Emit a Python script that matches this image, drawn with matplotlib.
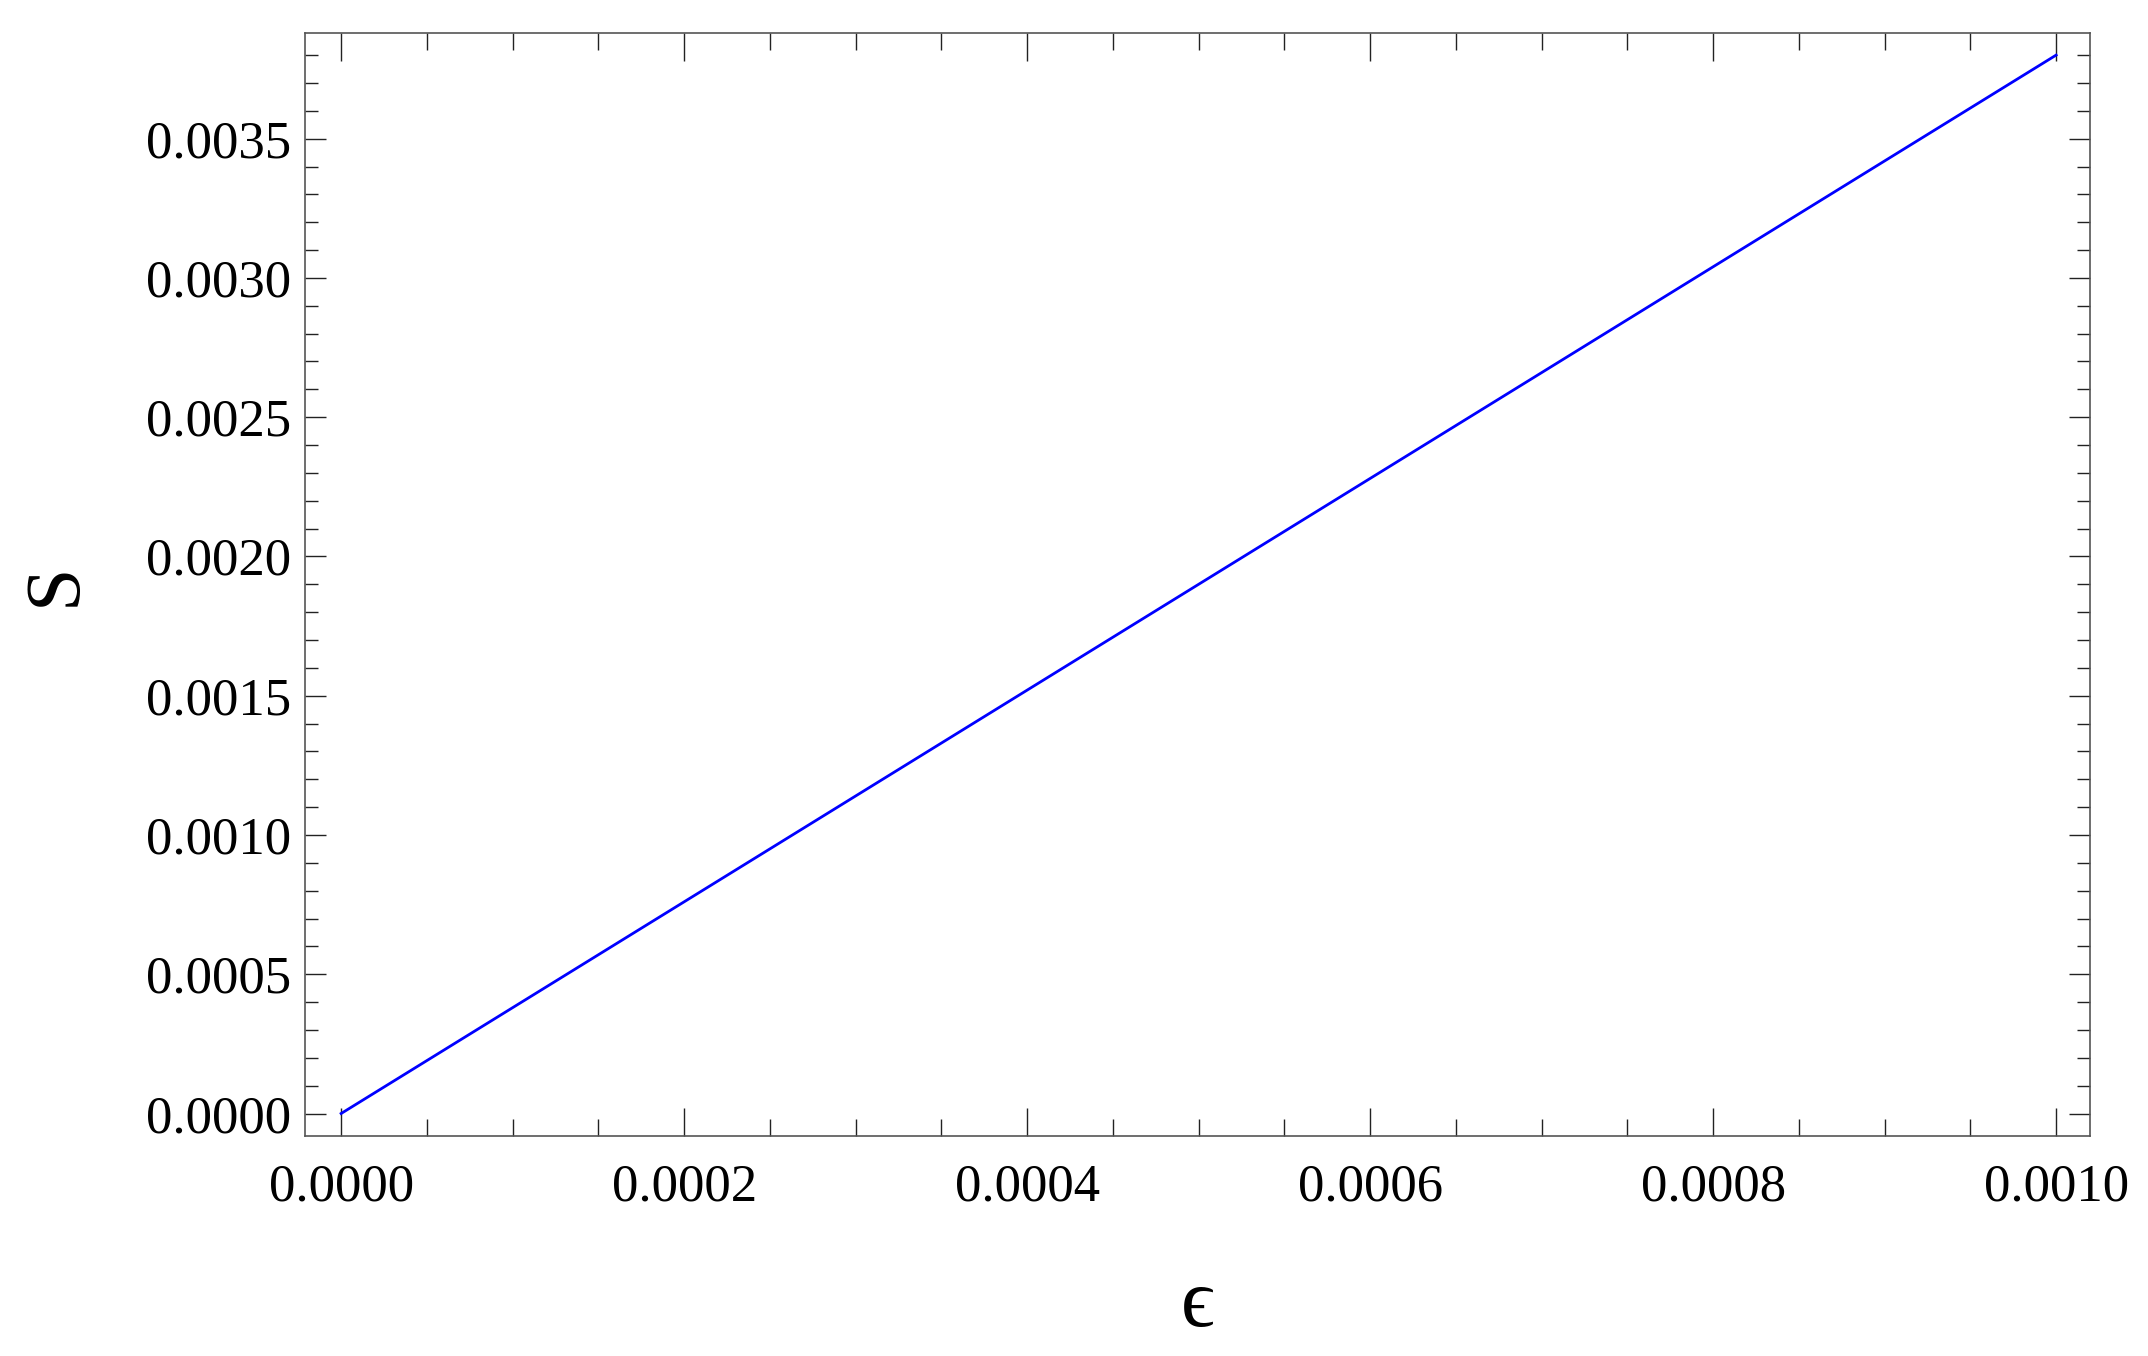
import matplotlib.pyplot as plt
from matplotlib.ticker import MultipleLocator, FormatStrFormatter

plt.rcParams['font.family'] = ['Liberation Serif', 'DejaVu Serif']

# data
eps = [0.0, 0.00025, 0.0005, 0.00075, 0.001]
S = [0.0, 0.00095, 0.0019, 0.00285, 0.0038]

fig = plt.figure(figsize=(10.74, 6.78), dpi=200)
ax = fig.add_axes([0.1422, 0.1626, 0.9732 - 0.1422, 0.9758 - 0.1626])

ax.plot(eps, S, color='#0000ff', lw=1.0)

ax.set_xlim(-0.0000208, 0.00102)
ax.set_ylim(-0.000079, 0.00388)

ax.xaxis.set_major_locator(MultipleLocator(0.0002))
ax.xaxis.set_minor_locator(MultipleLocator(0.00005))
ax.yaxis.set_major_locator(MultipleLocator(0.0005))
ax.yaxis.set_minor_locator(MultipleLocator(0.0001))
ax.xaxis.set_major_formatter(FormatStrFormatter('%.4f'))
ax.yaxis.set_major_formatter(FormatStrFormatter('%.4f'))

for s in ax.spines.values():
    s.set_color('#555555')
    s.set_linewidth(0.6)

ax.tick_params(axis='both', which='both', direction='in', top=True, right=True,
               width=0.5, color='#222222', labelsize=19)
ax.tick_params(axis='x', which='major', length=10, pad=10)
ax.tick_params(axis='x', which='minor', length=6)
ax.tick_params(axis='y', which='major', length=7.5, pad=5)
ax.tick_params(axis='y', which='minor', length=4.7)

ax.set_xlabel('\u03f5', fontsize=30)
ax.set_ylabel('S', fontsize=28)
ax.xaxis.label.set_verticalalignment('center')
ax.yaxis.label.set_verticalalignment('center')
ax.xaxis.set_label_coords(0.5, -0.155)
ax.yaxis.set_label_coords(-0.14, 0.5)

fig.savefig('out.png', dpi=200)
